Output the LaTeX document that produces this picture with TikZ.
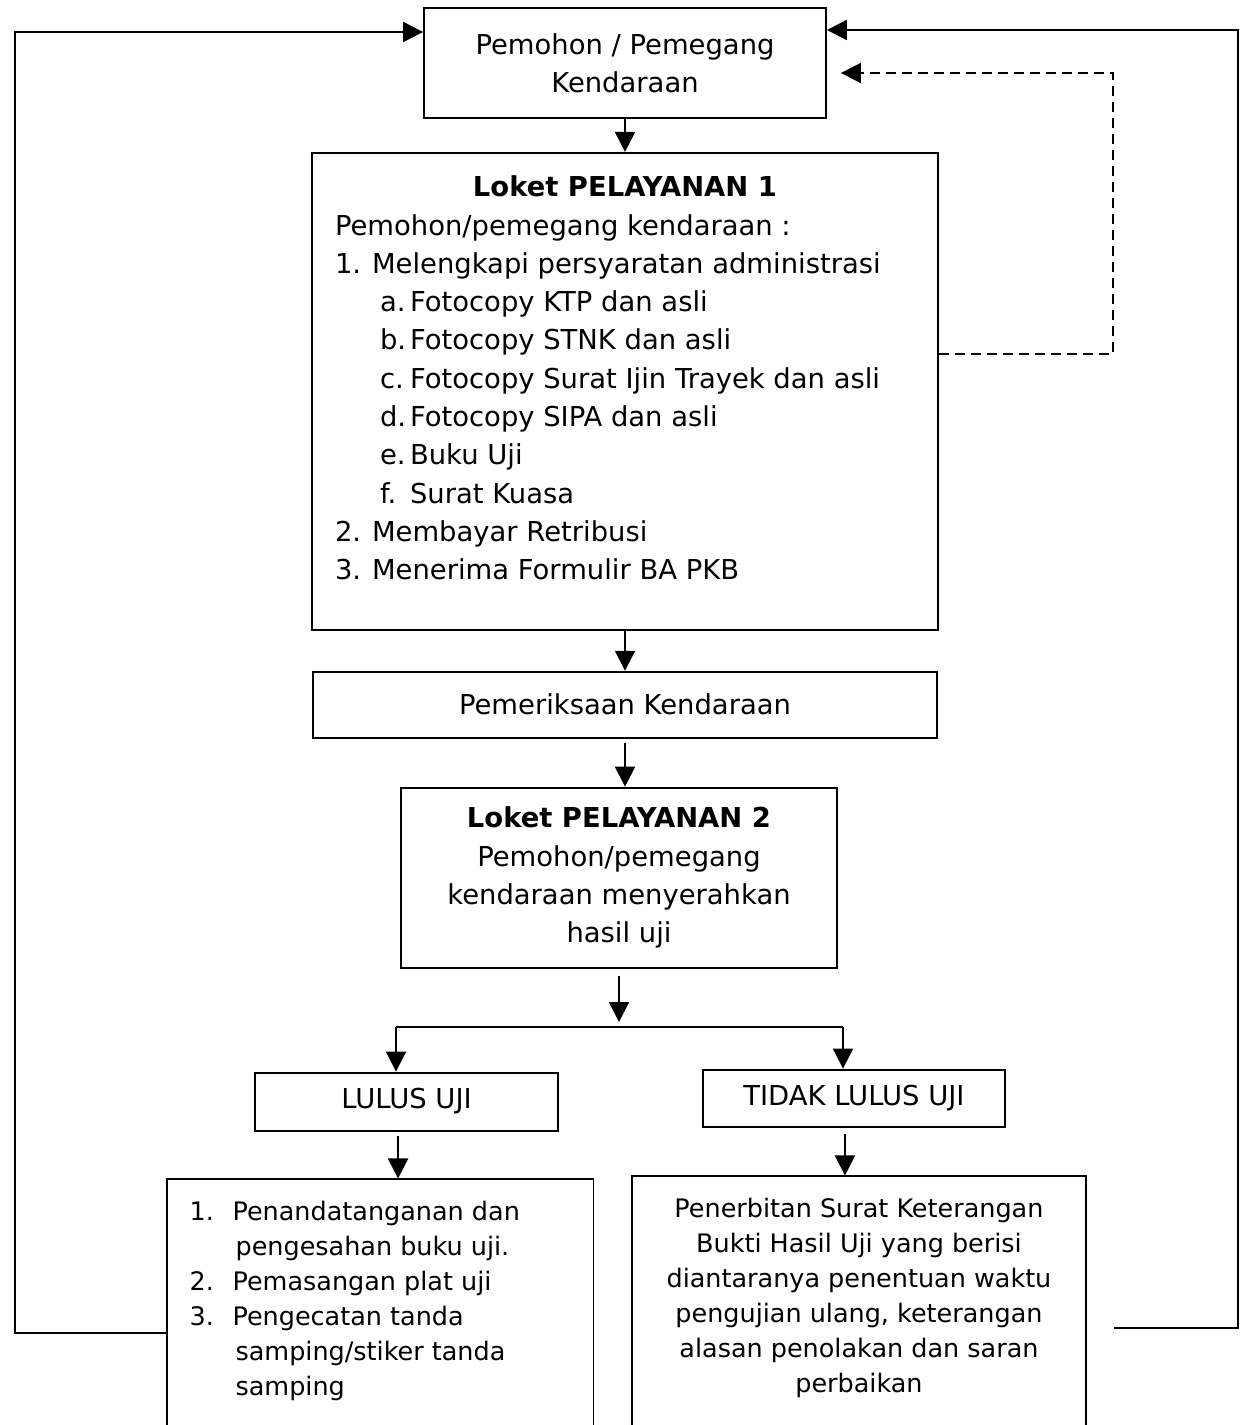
\documentclass[tikz,border=0pt]{standalone}
\usepackage{fontspec}
\setmainfont{DejaVu Sans}
\usetikzlibrary{positioning, arrows.meta}

\begin{document}
\begin{tikzpicture}[
    x=0.02cm, y=-0.02cm,
    box/.style={rectangle, draw=black, line width=1.1pt, inner sep=0pt, align=center, font=\fontsize{15.6}{21.8}\selectfont},
    result/.style={box, minimum height=6cm, font=\fontsize{14.5}{19.9}\selectfont},
    arrow/.style={-{Triangle[length=0.4cm, width=0.4cm]}, line width=1.1pt},
    link/.style={line width=1.1pt},
    back/.style={arrow, dash pattern=on 0.2cm off 0.12cm}
]
\useasboundingbox (0,0) rectangle (1240,1425);
\clip (0,0) rectangle (1240,1425);

% Nodes
\node (pemohon) [box, minimum width=8.04cm, minimum height=2.2cm] at (625,63) {Pemohon / Pemegang\\Kendaraan};

\node (loket1) [box, minimum width=12.54cm, minimum height=9.54cm, below=0.66cm of pemohon] {\parbox[c][9.3cm][t]{12.1cm}{%
    \vspace*{0.34cm}
    {\centering\bfseries Loket PELAYANAN 1\par}
    \hspace*{0.25cm}Pemohon/pemegang kendaraan :\par
    \hspace*{0.25cm}\makebox[0.74cm][l]{1.}Melengkapi persyaratan administrasi\par
    \hspace*{1.15cm}\makebox[0.6cm][l]{a.}Fotocopy KTP dan asli\par
    \hspace*{1.15cm}\makebox[0.6cm][l]{b.}Fotocopy STNK dan asli\par
    \hspace*{1.15cm}\makebox[0.6cm][l]{c.}Fotocopy Surat Ijin Trayek dan asli\par
    \hspace*{1.15cm}\makebox[0.6cm][l]{d.}Fotocopy SIPA dan asli\par
    \hspace*{1.15cm}\makebox[0.6cm][l]{e.}Buku Uji\par
    \hspace*{1.15cm}\makebox[0.6cm][l]{f.}Surat Kuasa\par
    \hspace*{0.25cm}\makebox[0.74cm][l]{2.}Membayar Retribusi\par
    \hspace*{0.25cm}\makebox[0.74cm][l]{3.}Menerima Formulir BA PKB\par}};

\node (periksa) [box, minimum width=12.5cm, minimum height=1.32cm, below=0.8cm of loket1] {Pemeriksaan Kendaraan};

\node (loket2) [box, minimum width=8.72cm, minimum height=3.6cm, below=0.96cm of periksa, xshift=-0.12cm] {\textbf{Loket PELAYANAN 2}\\Pemohon/pemegang\\kendaraan menyerahkan\\hasil uji};

\node (lulus) [box, minimum width=6.06cm, minimum height=1.16cm, below=2.06cm of loket2, xshift=-4.25cm] {LULUS UJI};
\node (tidak) [box, minimum width=6.04cm, minimum height=1.14cm, below=2.0cm of loket2, xshift=4.7cm] {TIDAK LULUS UJI};

\node (hasilL) [result, minimum width=8.54cm, below=0.94cm of lulus, xshift=-0.53cm] {\parbox[c][5.8cm][t]{7.62cm}{%
    \vspace*{0.33cm}
    \makebox[0.86cm][l]{1.}Penandatanganan dan\par
    \hspace*{0.92cm}pengesahan buku uji.\par
    \makebox[0.86cm][l]{2.}Pemasangan plat uji\par
    \makebox[0.86cm][l]{3.}Pengecatan tanda\par
    \hspace*{0.92cm}samping/stiker tanda\par
    \hspace*{0.92cm}samping\par}};

\node (hasilR) [result, minimum width=9.08cm, below=0.96cm of tidak, xshift=0.1cm] {\parbox[c][5.8cm][t]{8.8cm}{\centering
    \vspace*{0.33cm}
    Penerbitan Surat Keterangan\\
    Bukti Hasil Uji yang berisi\\
    diantaranya penentuan waktu\\
    pengujian ulang, keterangan\\
    alasan penolakan dan saran\\
    perbaikan\par}};

\coordinate (split) at (621,1027);
\coordinate (splitL) at (396,1027);
\coordinate (splitR) at (843,1027);
\coordinate (leftcorner) at (15,32);
\coordinate (rightcorner) at (1238,30);
\coordinate (dashcorner) at (1113,73);

% Arrows
\draw [arrow] (pemohon) -- (loket1);
\draw [arrow] (loket1) -- (periksa);
\draw [arrow, shorten <=0.08cm] (periksa.south) -- (periksa.south |- loket2.north);
\draw [arrow, shorten <=0.14cm, shorten >=0.1cm] (loket2.south) -- (loket2.south |- split);
\draw [link] (splitL) -- (splitR);
\draw [arrow] (splitL) -- (splitL |- lulus.north);
\draw [arrow] (splitR) -- (splitR |- tidak.north);
\draw [arrow, shorten <=0.08cm] ([xshift=-0.17cm]lulus.south) -- ([xshift=-0.17cm]lulus.south |- hasilL.north);
\draw [arrow, shorten <=0.12cm] ([xshift=-0.18cm]tidak.south) -- ([xshift=-0.18cm]tidak.south |- hasilR.north);

% Loops back to the applicant
\draw [arrow] ([yshift=-0.08cm]hasilL.west) -| (leftcorner) -- (leftcorner -| pemohon.west);
\draw [arrow] ([xshift=0.54cm, yshift=-0.04cm]hasilR.east) -| (rightcorner) -- (rightcorner -| pemohon.east);
\draw [back] ([yshift=0.75cm]loket1.east) -| (dashcorner) -- ([xshift=0.28cm]dashcorner -| pemohon.east);

\end{tikzpicture}
\end{document}
